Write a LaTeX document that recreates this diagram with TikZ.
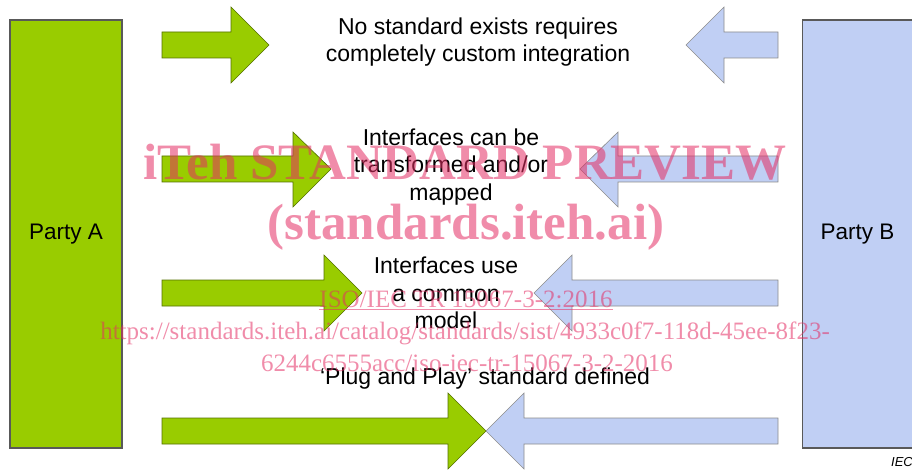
\documentclass[tikz,border=0pt]{standalone}
\usepackage{fontspec}
\setmainfont{Liberation Sans}
\newfontfamily\wmfont{Liberation Serif}
\usetikzlibrary{positioning}
\definecolor{partyA}{RGB}{153,204,0}
\definecolor{partyB}{RGB}{192,207,244}
\definecolor{wmpink}{RGB}{228,46,100}

\begin{document}
\begin{tikzpicture}
		[x=1pt,y=-1pt,
		partybox/.style={rectangle,draw=black!65,line width=1.2pt,inner sep=0pt,
			minimum width=112pt,minimum height=428pt,font=\fontsize{22.5}{27}\selectfont},
		arrowA/.style={fill=partyA,draw=partyA!55!black,line width=0.6pt},
		arrowB/.style={fill=partyB,draw=black!45,line width=0.6pt},
		caption/.style={align=center,inner sep=0pt,font=\fontsize{23}{27.5}\selectfont},
		wmark/.style={text=wmpink,text opacity=0.55,inner sep=0pt,anchor=base}]
		\useasboundingbox (0,0) rectangle (912,470);

		% the two parties
		\node [partybox,fill=partyA] (pa) at (66,234) {\raisebox{5pt}{Party A}};
		\node [partybox,fill=partyB,anchor=west] (pb) at (802,234) {\raisebox{5pt}{\hspace*{-2pt}Party B}};

		% no standard
		\draw [arrowA] (162,32) -- (231,32) -- (231,7) -- (269,45) -- (231,83) -- (231,58) -- (162,58) -- cycle;
		\draw [arrowB] (778,32) -- (724,32) -- (724,7) -- (686,45) -- (724,83) -- (724,58) -- (778,58) -- cycle;
		\node [caption] (t1) at (478,42) {No standard exists requires\\completely custom integration};

		% transformed / mapped
		\draw [arrowA] (162,156) -- (293,156) -- (293,132) -- (331,169) -- (293,207) -- (293,182) -- (162,182) -- cycle;
		\draw [arrowB] (778,156) -- (618,156) -- (618,132) -- (580,169) -- (618,207) -- (618,182) -- (778,182) -- cycle;
		\node [caption] (t2) at (451,167) {Interfaces can be\\transformed and/or\\mapped};

		% common model
		\draw [arrowA] (162,280) -- (324,280) -- (324,255) -- (362,293) -- (324,331) -- (324,306) -- (162,306) -- cycle;
		\draw [arrowB] (778,280) -- (572,280) -- (572,255) -- (534,293) -- (572,331) -- (572,306) -- (778,306) -- cycle;
		\node [caption] (t3) at (446,293) {Interfaces use\\a common\\model};

		% plug and play
		\draw [arrowA] (162,418) -- (448,418) -- (448,393) -- (486,431) -- (448,469) -- (448,444) -- (162,444) -- cycle;
		\draw [arrowB] (778,418) -- (524,418) -- (524,393) -- (486,431) -- (524,469) -- (524,444) -- (778,444) -- cycle;
		\node [caption] (t4) at (485,379) {‘Plug and Play’ standard defined};

		\node [anchor=base west,inner sep=0pt,font=\fontsize{13}{15}\selectfont\itshape] (iec) at (891,466) {IEC};

		% preview stamp
		\node [wmark,font=\wmfont\bfseries\fontsize{51}{55}\selectfont] (w1) at (465,180) {iTeh STANDARD PREVIEW};
		\node [wmark,font=\wmfont\bfseries\fontsize{51}{55}\selectfont] (w2) at (466,240) {(standards.iteh.ai)};
		\node [wmark,font=\wmfont\fontsize{25}{28}\selectfont] (w3) at (466,307) {\underline{ISO/IEC TR 15067-3-2:2016}};
		\node [wmark,font=\wmfont\fontsize{25}{28}\selectfont] (w4) at (465,339) {https://standards.iteh.ai/catalog/standards/sist/4933c0f7-118d-45ee-8f23-};
		\node [wmark,font=\wmfont\fontsize{25}{28}\selectfont] (w5) at (467,371) {6244c6555acc/iso-iec-tr-15067-3-2-2016};

	\end{tikzpicture}
\end{document}
